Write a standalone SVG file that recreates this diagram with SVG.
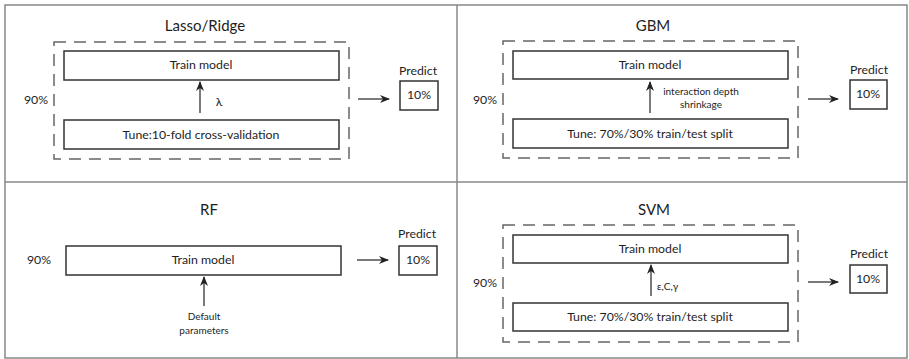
<svg xmlns="http://www.w3.org/2000/svg" width="909" height="359" viewBox="0 0 909 359">
<defs>
<marker id="ah" viewBox="0 0 10 8" refX="9" refY="4" markerWidth="10" markerHeight="8" markerUnits="userSpaceOnUse" orient="auto">
<path d="M0,0 L10,4 L0,8 L3,4 Z" fill="#222"/>
</marker>
<style>
text{font-family:Lato,"Open Sans","Liberation Sans",sans-serif;fill:#1e1e1e;text-anchor:middle}
.title{font-size:15px}
.lbl{font-size:12.3px}
.sm{font-size:10px}
.box{fill:#fff;stroke:#333;stroke-width:1.5}
.dash{fill:none;stroke:#666;stroke-width:1.5;stroke-dasharray:12 8}
.frame{fill:none;stroke:#888;stroke-width:1.5}
.conn{stroke:#222;stroke-width:1.2;fill:none;marker-end:url(#ah)}
</style>
</defs>
<rect width="909" height="359" fill="#fff"/>
<g id="frame">
<rect class="frame" x="5" y="5" width="902" height="353"/>
<line class="frame" x1="457" y1="5" x2="457" y2="358"/>
<line class="frame" x1="5" y1="182" x2="907" y2="182"/>
</g>

<g id="lasso">
<text class="title" x="205" y="31">Lasso/Ridge</text>
<rect class="dash" x="54" y="42" width="295" height="117"/>
<text class="lbl" x="36" y="104">90%</text>
<g id="lasso-train"><rect class="box" x="64" y="51" width="275" height="29"/><text class="lbl" x="201" y="69">Train model</text></g>
<g id="lasso-tune"><rect class="box" x="64" y="120" width="275" height="29"/><text class="lbl" x="201" y="139">Tune:10-fold cross-validation</text></g>
<text class="lbl" x="219" y="106">λ</text>
<text class="lbl" x="418" y="75">Predict</text>
<g id="lasso-predict"><rect class="box" x="400" y="81" width="38" height="29"/><text class="lbl" x="419" y="99">10%</text></g>
</g>

<g id="gbm">
<text class="title" x="653" y="31">GBM</text>
<rect class="dash" x="503" y="41" width="295" height="117"/>
<text class="lbl" x="485" y="104">90%</text>
<g id="gbm-train"><rect class="box" x="513" y="51" width="275" height="28"/><text class="lbl" x="650" y="69">Train model</text></g>
<g id="gbm-tune"><rect class="box" x="513" y="119" width="275" height="29"/><text class="lbl" x="650" y="138">Tune: 70%/30% train/test split</text></g>
<text class="sm" x="701" y="95">interaction depth</text>
<text class="sm" x="701" y="108">shrinkage</text>
<text class="lbl" x="869" y="74">Predict</text>
<g id="gbm-predict"><rect class="box" x="850" y="80" width="37" height="29"/><text class="lbl" x="868" y="98">10%</text></g>
</g>

<g id="rf">
<text class="title" x="209" y="215">RF</text>
<text class="lbl" x="39" y="264">90%</text>
<g id="rf-train"><rect class="box" x="66" y="246" width="275" height="29"/><text class="lbl" x="203" y="264">Train model</text></g>
<text class="sm" x="204" y="320">Default</text>
<text class="sm" x="204" y="334">parameters</text>
<text class="lbl" x="417" y="238">Predict</text>
<g id="rf-predict"><rect class="box" x="399" y="246" width="38" height="29"/><text class="lbl" x="418" y="264">10%</text></g>
</g>

<g id="svm">
<text class="title" x="654" y="215">SVM</text>
<rect class="dash" x="503" y="225" width="295" height="117"/>
<text class="lbl" x="485" y="287">90%</text>
<g id="svm-train"><rect class="box" x="513" y="235" width="275" height="28"/><text class="lbl" x="650" y="253">Train model</text></g>
<g id="svm-tune"><rect class="box" x="513" y="303" width="275" height="28"/><text class="lbl" x="650" y="321">Tune: 70%/30% train/test split</text></g>
<text class="sm" x="657" y="290" style="text-anchor:start">ε,C,γ</text>
<text class="lbl" x="869" y="258">Predict</text>
<g id="svm-predict"><rect class="box" x="850" y="265" width="37" height="28"/><text class="lbl" x="868" y="283">10%</text></g>
</g>

<g id="connectors">
<line class="conn" x1="200" y1="113" x2="200" y2="82"/>
<line class="conn" x1="358" y1="99" x2="389" y2="99"/>
<line class="conn" x1="650" y1="113" x2="650" y2="82"/>
<line class="conn" x1="808" y1="99" x2="838" y2="99"/>
<line class="conn" x1="204" y1="306" x2="204" y2="277"/>
<line class="conn" x1="357" y1="260" x2="388" y2="260"/>
<line class="conn" x1="651" y1="296" x2="651" y2="265"/>
<line class="conn" x1="808" y1="282" x2="838" y2="282"/>
</g>
</svg>
